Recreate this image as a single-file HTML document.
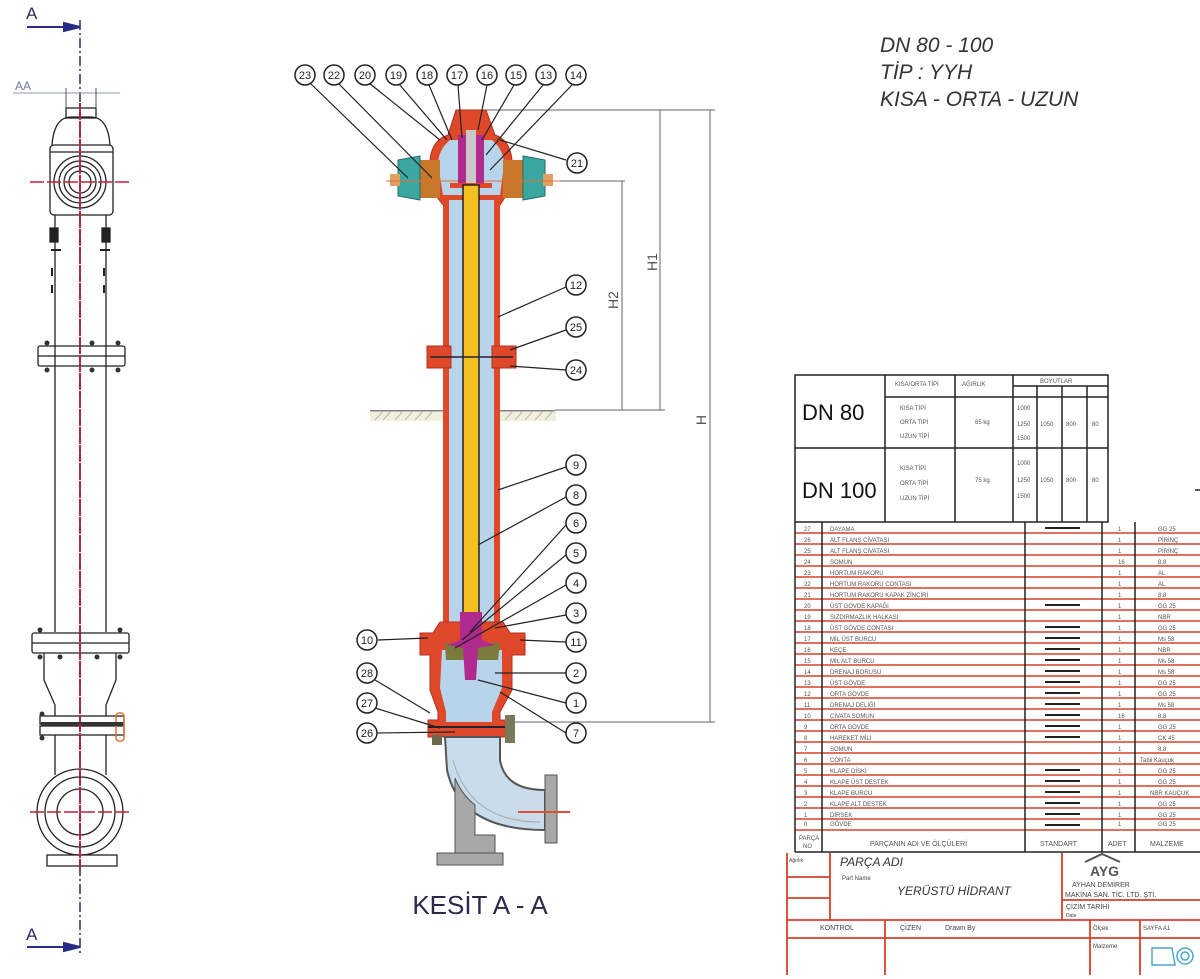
<!DOCTYPE html>
<html><head><meta charset="utf-8"><style>
html,body{margin:0;padding:0;background:#fff}
svg{display:block}
text{font-family:"Liberation Sans",sans-serif}
</style></head><body>
<svg width="1200" height="979" viewBox="0 0 1200 979" xmlns="http://www.w3.org/2000/svg">
<rect width="1200" height="979" fill="#fff"/>

<!-- ============ LEFT ELEVATION ============ -->
<g stroke="#222" stroke-width="1.3" fill="none">
  <rect x="66" y="108" width="30" height="10"/>
  <path d="M52 145 Q54 118 70 117 L92 117 Q108 118 110 145"/>
  <rect x="50" y="145" width="63" height="70" rx="4"/>
  <line x1="50" y1="152" x2="113" y2="152"/>
  <circle cx="80" cy="182" r="26"/><circle cx="80" cy="182" r="21"/><circle cx="80" cy="182" r="16"/><circle cx="80" cy="182" r="11"/>
  <line x1="55" y1="215" x2="55" y2="632"/><line x1="106" y1="215" x2="106" y2="632"/>
  <rect x="38" y="346" width="87" height="20" rx="2"/><line x1="38" y1="356" x2="125" y2="356"/>
  <rect x="32" y="633" width="97" height="20" rx="2"/><line x1="32" y1="643" x2="129" y2="643"/>
  <path d="M44 653 L44 680 L55 705 L55 716 M116 653 L116 680 L106 705 L106 716"/>
  <rect x="40" y="716" width="84" height="8"/><rect x="40" y="726" width="84" height="9"/>
  <line x1="55" y1="735" x2="55" y2="775"/><line x1="106" y1="735" x2="106" y2="775"/>
  <circle cx="80" cy="812" r="43"/><circle cx="80" cy="812" r="35"/><circle cx="80" cy="812" r="23"/>
  <rect x="47" y="855" width="70" height="11"/>
  <path d="M50 228 h8 v14 h-8z M102 228 h8 v14 h-8z" fill="#222"/>
  <path d="M51 250 h10 M100 250 h10 M52 268 v8 M104 268 v8 M52 285 v8 M104 285 v8" stroke-width="2"/>
</g>
<g fill="#333">
  <circle cx="47" cy="343" r="2.5"/><circle cx="92" cy="343" r="2.5"/><circle cx="118" cy="343" r="2.5"/>
  <circle cx="47" cy="370" r="2.5"/><circle cx="92" cy="370" r="2.5"/><circle cx="118" cy="370" r="2.5"/>
  <circle cx="40" cy="630" r="2.5"/><circle cx="60" cy="657" r="2.5"/><circle cx="97" cy="657" r="2.5"/><circle cx="120" cy="657" r="2.5"/><circle cx="40" cy="657" r="2.5"/><circle cx="120" cy="630" r="2.5"/>
  <circle cx="42" cy="714" r="2.5"/><circle cx="42" cy="738" r="2.5"/>
</g>
<rect x="116" y="713" width="8" height="28" rx="3" fill="none" stroke="#e07030" stroke-width="1.5"/>
<rect x="41" y="722" width="82" height="4" fill="#333"/>
<!-- centre lines -->
<line x1="80" y1="20" x2="80" y2="955" stroke="#2a2a6a" stroke-width="1.5" stroke-dasharray="10,3,2,3"/>
<line x1="80" y1="103" x2="80" y2="870" stroke="#c0203a" stroke-width="2" stroke-dasharray="7,2"/>
<line x1="30" y1="182" x2="132" y2="182" stroke="#c0203a" stroke-width="1.5" stroke-dasharray="14,3"/>
<line x1="30" y1="812" x2="130" y2="812" stroke="#c0203a" stroke-width="1.5" stroke-dasharray="14,3"/>
<!-- A arrows -->
<g stroke="#2a2a8a" stroke-width="2" fill="#2a2a8a">
  <line x1="27" y1="27" x2="70" y2="27"/><path d="M80 27 L64 23 L64 31Z"/>
  <line x1="27" y1="947" x2="70" y2="947"/><path d="M80 947 L64 943 L64 951Z"/>
</g>
<text x="26" y="19" font-size="17" fill="#2a2a6a">A</text>
<text x="26" y="940" font-size="17" fill="#2a2a6a">A</text>
<!-- AA -->
<text x="15" y="90" font-size="12" fill="#6a7a9a">AA</text>
<line x1="13" y1="93" x2="120" y2="93" stroke="#8a9ab0" stroke-width="1"/>
<line x1="66" y1="88" x2="66" y2="108" stroke="#555"/><line x1="96" y1="88" x2="96" y2="108" stroke="#555"/>

<!-- ============ SECTION A-A ============ -->
<!-- extension / dimension lines -->
<g stroke="#666" stroke-width="1">
  <line x1="486" y1="110" x2="715" y2="110"/>
  <line x1="545" y1="181" x2="625" y2="181"/>
  <line x1="555" y1="410" x2="665" y2="410"/>
  <line x1="510" y1="722" x2="715" y2="722"/>
  <line x1="710" y1="110" x2="710" y2="722"/>
  <line x1="660" y1="110" x2="660" y2="410"/>
  <line x1="622" y1="181" x2="622" y2="410"/>
</g>
<text transform="translate(706,420) rotate(-90)" font-size="14" fill="#555" text-anchor="middle">H</text>
<text transform="translate(657,262) rotate(-90)" font-size="14" fill="#555" text-anchor="middle">H1</text>
<text transform="translate(618,300) rotate(-90)" font-size="14" fill="#555" text-anchor="middle">H2</text>

<!-- ground -->
<line x1="370" y1="411" x2="555" y2="411" stroke="#556" stroke-width="1.5"/>
<path d="M375 420 l8 -9 M383 420 l8 -9 M395 420 l8 -9 M405 420 l8 -9 M415 420 l8 -9 M425 420 l8 -9 M505 420 l8 -9 M515 420 l8 -9 M525 420 l8 -9 M535 420 l8 -9 M545 420 l8 -9" stroke="#777" stroke-width="1"/>
<rect x="370" y="411" width="186" height="10" fill="#e7e6c8" opacity="0.6"/>

<!-- head -->
<path d="M456 110 L486 110 L495 135 Q510 140 512 160 L512 188 Q505 197 500 205 L443 205 Q437 197 430 188 L430 160 Q432 140 448 135 Z" fill="#e0482a" stroke="#b03020"/>
<path d="M450 140 L492 140 Q504 150 504 165 L500 195 L443 195 L438 165 Q438 150 450 140Z" fill="#b8d4ea"/>
<rect x="418" y="160" width="22" height="38" fill="#c8782a"/>
<rect x="503" y="160" width="22" height="38" fill="#c8782a"/>
<path d="M398 160 L420 156 L420 200 L398 196 Z" fill="#3aa8a0" stroke="#2a6a6a"/>
<path d="M523 156 L545 160 L545 196 L523 200 Z" fill="#3aa8a0" stroke="#2a6a6a"/>
<rect x="390" y="174" width="10" height="12" fill="#e0a060"/><rect x="543" y="174" width="10" height="12" fill="#e0a060"/>
<line x1="386" y1="181" x2="560" y2="181" stroke="#e07030"/>
<rect x="458" y="135" width="26" height="48" fill="#b02a90"/>
<rect x="466" y="128" width="10" height="58" fill="#c8c8c8"/>
<rect x="458" y="118" width="26" height="12" fill="#e0482a"/>
<rect x="450" y="183" width="42" height="5" fill="#e0482a"/>
<!-- pipe -->
<rect x="443" y="200" width="57" height="425" fill="#e0482a"/>
<rect x="449" y="200" width="45" height="425" fill="#b8d4ea"/>
<rect x="463" y="185" width="16" height="440" fill="#f4c020" stroke="#222" stroke-width="1.5"/>
<!-- mid flange -->
<rect x="427" y="346" width="24" height="22" fill="#e0482a" stroke="#b03020"/>
<rect x="492" y="346" width="24" height="22" fill="#e0482a" stroke="#b03020"/>
<line x1="430" y1="357" x2="513" y2="357" stroke="#223" stroke-width="1.5"/>
<!-- lower valve -->
<path d="M440 622 L503 622 L510 633 L525 633 L525 655 L512 655 L512 690 L500 712 L500 720 L510 720 L510 737 L428 737 L428 720 L438 720 L438 712 L430 690 L430 655 L420 655 L420 633 L433 633 Z" fill="#e0482a" stroke="#b03020"/>
<path d="M442 650 L502 650 L502 688 L492 712 L492 722 L446 722 L446 712 L440 688 Z" fill="#b8d4ea"/>
<path d="M445 643 L500 643 L498 660 L446 660 Z" fill="#7a7a3a"/>
<path d="M460 612 L482 612 L482 640 L495 645 L478 648 L476 680 L465 680 L463 648 L447 645 L460 640 Z" fill="#b02a90"/>
<line x1="428" y1="727" x2="512" y2="727" stroke="#223" stroke-width="2"/>
<rect x="505" y="715" width="10" height="28" fill="#7a7a5a"/>
<rect x="432" y="735" width="10" height="10" fill="#6a6a4a"/>
<!-- elbow -->
<path d="M445 737 L500 737 L500 760 Q505 790 545 790 L545 830 Q460 830 447 770 Z" fill="#c8dcec" stroke="#555" stroke-width="2"/>
<path d="M453 760 Q470 822 540 822" fill="none" stroke="#aaa" stroke-width="1"/>
<rect x="545" y="775" width="12" height="68" fill="#a8a8a8" stroke="#555"/>
<path d="M455 778 L455 855 L495 855 L495 835 L475 835 L475 805 Q462 795 455 778Z" fill="#a8a8a8" stroke="#555"/>
<rect x="437" y="853" width="66" height="12" fill="#a8a8a8" stroke="#555"/>
<line x1="518" y1="812" x2="570" y2="812" stroke="#e05030" stroke-width="2"/>

<!-- leader lines -->
<g stroke="#222" stroke-width="1.2" fill="none">
  <line x1="310" y1="83" x2="408" y2="178"/>
  <line x1="338" y1="83" x2="432" y2="178"/>
  <line x1="369" y1="83" x2="440" y2="140"/>
  <line x1="399" y1="84" x2="447" y2="140"/>
  <line x1="429" y1="85" x2="452" y2="140"/>
  <line x1="458" y1="85" x2="462" y2="138"/>
  <line x1="487" y1="85" x2="478" y2="130"/>
  <line x1="514" y1="85" x2="482" y2="140"/>
  <line x1="543" y1="85" x2="486" y2="155"/>
  <line x1="572" y1="85" x2="490" y2="170"/>
  <line x1="566" y1="160" x2="500" y2="140"/>
  <line x1="566" y1="287" x2="498" y2="317"/>
  <line x1="566" y1="330" x2="510" y2="350"/>
  <line x1="566" y1="370" x2="510" y2="366"/>
  <line x1="566" y1="467" x2="498" y2="490"/>
  <line x1="566" y1="497" x2="478" y2="545"/>
  <line x1="566" y1="525" x2="470" y2="632"/>
  <line x1="566" y1="555" x2="462" y2="640"/>
  <line x1="566" y1="585" x2="455" y2="648"/>
  <line x1="566" y1="615" x2="495" y2="628"/>
  <line x1="566" y1="642" x2="520" y2="640"/>
  <line x1="566" y1="673" x2="495" y2="673"/>
  <line x1="566" y1="703" x2="478" y2="680"/>
  <line x1="566" y1="733" x2="500" y2="692"/>
  <line x1="378" y1="640" x2="428" y2="638"/>
  <line x1="375" y1="680" x2="430" y2="713"/>
  <line x1="375" y1="708" x2="440" y2="728"/>
  <line x1="378" y1="733" x2="455" y2="732"/>
</g>
<!-- callout circles -->
<g stroke="#222" stroke-width="1.5" fill="#fff">
  <circle cx="305" cy="75" r="10"/><circle cx="334" cy="75" r="10"/><circle cx="365" cy="75" r="10"/><circle cx="396" cy="75" r="10"/><circle cx="427" cy="75" r="10"/><circle cx="457" cy="75" r="10"/><circle cx="487" cy="75" r="10"/><circle cx="516" cy="75" r="10"/><circle cx="546" cy="75" r="10"/><circle cx="576" cy="75" r="10"/>
  <circle cx="577" cy="163" r="10"/><circle cx="576" cy="285" r="10"/><circle cx="576" cy="327" r="10"/><circle cx="576" cy="370" r="10"/>
  <circle cx="576" cy="465" r="10"/><circle cx="576" cy="495" r="10"/><circle cx="576" cy="523" r="10"/><circle cx="576" cy="553" r="10"/><circle cx="576" cy="583" r="10"/><circle cx="576" cy="613" r="10"/><circle cx="576" cy="642" r="10"/><circle cx="576" cy="673" r="10"/><circle cx="576" cy="703" r="10"/><circle cx="576" cy="733" r="10"/>
  <circle cx="367" cy="640" r="10"/><circle cx="367" cy="673" r="10"/><circle cx="367" cy="703" r="10"/><circle cx="367" cy="733" r="10"/>
</g>
<g font-size="11" fill="#222" text-anchor="middle">
  <text x="305" y="79">23</text><text x="334" y="79">22</text><text x="365" y="79">20</text><text x="396" y="79">19</text><text x="427" y="79">18</text><text x="457" y="79">17</text><text x="487" y="79">16</text><text x="516" y="79">15</text><text x="546" y="79">13</text><text x="576" y="79">14</text>
  <text x="577" y="167">21</text><text x="576" y="289">12</text><text x="576" y="331">25</text><text x="576" y="374">24</text>
  <text x="576" y="469">9</text><text x="576" y="499">8</text><text x="576" y="527">6</text><text x="576" y="557">5</text><text x="576" y="587">4</text><text x="576" y="617">3</text><text x="576" y="646">11</text><text x="576" y="677">2</text><text x="576" y="707">1</text><text x="576" y="737">7</text>
  <text x="367" y="644">10</text><text x="367" y="677">28</text><text x="367" y="707">27</text><text x="367" y="737">26</text>
</g>
<text x="480" y="914" font-size="26" fill="#2a2a4a" text-anchor="middle">KESİT A - A</text>

<!-- ============ TOP RIGHT TEXT ============ -->
<g font-size="21" font-style="italic" fill="#333">
  <text x="880" y="52">DN  80 - 100</text>
  <text x="880" y="79">TİP : YYH</text>
  <text x="880" y="106">KISA - ORTA - UZUN</text>
</g>

<!-- ============ DN TABLE ============ -->
<g stroke="#222" stroke-width="1.5" fill="none">
  <rect x="795" y="375" width="313" height="147"/>
  <line x1="795" y1="448" x2="1108" y2="448"/>
  <line x1="885" y1="375" x2="885" y2="522"/>
  <line x1="955" y1="375" x2="955" y2="522"/>
  <line x1="1013" y1="375" x2="1013" y2="522"/>
  <line x1="885" y1="397" x2="1013" y2="397"/>
  <line x1="1013" y1="386" x2="1108" y2="386"/>
  <line x1="1013" y1="397" x2="1108" y2="397"/>
  <line x1="1037" y1="386" x2="1037" y2="522"/>
  <line x1="1062" y1="386" x2="1062" y2="522"/>
  <line x1="1087" y1="386" x2="1087" y2="522"/>
</g>
<text x="802" y="420" font-size="22" fill="#111">DN 80</text>
<text x="802" y="498" font-size="22" fill="#111">DN 100</text>
<g font-size="6" fill="#555">
  <text x="895" y="386">KISA/ORTA TİPİ</text><text x="962" y="386">AĞIRLIK</text><text x="1040" y="383">BOYUTLAR</text>
  <text x="900" y="410">KISA TİPİ</text><text x="900" y="424">ORTA TİPİ</text><text x="900" y="438">UZUN TİPİ</text>
  <text x="975" y="424">65 kg</text>
  <text x="1017" y="410">1000</text><text x="1017" y="426">1250</text><text x="1017" y="440">1500</text>
  <text x="1040" y="426">1050</text><text x="1066" y="426">800</text><text x="1092" y="426">80</text>
  <text x="900" y="470">KISA TİPİ</text><text x="900" y="485">ORTA TİPİ</text><text x="900" y="500">UZUN TİPİ</text>
  <text x="975" y="482">75 kg</text>
  <text x="1017" y="465">1000</text><text x="1017" y="482">1250</text><text x="1017" y="498">1500</text>
  <text x="1040" y="482">1050</text><text x="1066" y="482">800</text><text x="1092" y="482">80</text>
</g>

<!-- ============ PARTS LIST ============ -->
<g stroke="#d8402a" stroke-width="1.6">
  <line x1="795" y1="533" x2="1200" y2="533"/><line x1="795" y1="544" x2="1200" y2="544"/><line x1="795" y1="555" x2="1200" y2="555"/><line x1="795" y1="566" x2="1200" y2="566"/><line x1="795" y1="577" x2="1200" y2="577"/><line x1="795" y1="588" x2="1200" y2="588"/><line x1="795" y1="599" x2="1200" y2="599"/><line x1="795" y1="610" x2="1200" y2="610"/><line x1="795" y1="621" x2="1200" y2="621"/><line x1="795" y1="632" x2="1200" y2="632"/><line x1="795" y1="643" x2="1200" y2="643"/><line x1="795" y1="654" x2="1200" y2="654"/><line x1="795" y1="665" x2="1200" y2="665"/><line x1="795" y1="676" x2="1200" y2="676"/><line x1="795" y1="687" x2="1200" y2="687"/><line x1="795" y1="698" x2="1200" y2="698"/><line x1="795" y1="709" x2="1200" y2="709"/><line x1="795" y1="720" x2="1200" y2="720"/><line x1="795" y1="731" x2="1200" y2="731"/><line x1="795" y1="742" x2="1200" y2="742"/><line x1="795" y1="753" x2="1200" y2="753"/><line x1="795" y1="764" x2="1200" y2="764"/><line x1="795" y1="775" x2="1200" y2="775"/><line x1="795" y1="786" x2="1200" y2="786"/><line x1="795" y1="797" x2="1200" y2="797"/><line x1="795" y1="808" x2="1200" y2="808"/><line x1="795" y1="819" x2="1200" y2="819"/><line x1="795" y1="830" x2="1200" y2="830"/>
</g>
<g stroke="#222" stroke-width="1.5" fill="none">
  <line x1="795" y1="522" x2="795" y2="852"/>
  <line x1="822" y1="522" x2="822" y2="852"/>
  <line x1="1025" y1="522" x2="1025" y2="852"/>
  <line x1="1102" y1="522" x2="1102" y2="852"/>
  <line x1="1135" y1="522" x2="1135" y2="852"/>
  <line x1="795" y1="852" x2="1200" y2="852"/>
</g>
<g stroke="#222" stroke-width="2">
  <line x1="1045" y1="528" x2="1080" y2="528"/><line x1="1045" y1="605" x2="1080" y2="605"/><line x1="1045" y1="627" x2="1080" y2="627"/><line x1="1045" y1="638" x2="1080" y2="638"/><line x1="1045" y1="649" x2="1080" y2="649"/><line x1="1045" y1="660" x2="1080" y2="660"/><line x1="1045" y1="671" x2="1080" y2="671"/><line x1="1045" y1="682" x2="1080" y2="682"/><line x1="1045" y1="693" x2="1080" y2="693"/><line x1="1045" y1="704" x2="1080" y2="704"/><line x1="1045" y1="715" x2="1080" y2="715"/><line x1="1045" y1="726" x2="1080" y2="726"/><line x1="1045" y1="737" x2="1080" y2="737"/><line x1="1045" y1="770" x2="1080" y2="770"/><line x1="1045" y1="781" x2="1080" y2="781"/><line x1="1045" y1="792" x2="1080" y2="792"/><line x1="1045" y1="803" x2="1080" y2="803"/><line x1="1045" y1="814" x2="1080" y2="814"/><line x1="1045" y1="825" x2="1080" y2="825"/>
</g>
<g font-size="6" fill="#555">
  <text x="804" y="531">27</text><text x="830" y="531">DAYAMA</text><text x="1118" y="531">1</text><text x="1158" y="531">GG 25</text>
  <text x="804" y="542">26</text><text x="830" y="542">ALT FLANŞ CİVATASI</text><text x="1118" y="542">1</text><text x="1158" y="542">PİRİNÇ</text>
  <text x="804" y="553">25</text><text x="830" y="553">ALT FLANŞ CİVATASI</text><text x="1118" y="553">1</text><text x="1158" y="553">PİRİNÇ</text>
  <text x="804" y="564">24</text><text x="830" y="564">SOMUN</text><text x="1118" y="564">16</text><text x="1158" y="564">8.8</text>
  <text x="804" y="575">23</text><text x="830" y="575">HORTUM RAKORU</text><text x="1118" y="575">1</text><text x="1158" y="575">AL</text>
  <text x="804" y="586">22</text><text x="830" y="586">HORTUM RAKORU CONTASI</text><text x="1118" y="586">1</text><text x="1158" y="586">AL</text>
  <text x="804" y="597">21</text><text x="830" y="597">HORTUM RAKORU KAPAK ZİNCİRİ</text><text x="1118" y="597">1</text><text x="1158" y="597">8.8</text>
  <text x="804" y="608">20</text><text x="830" y="608">ÜST GÖVDE KAPAĞI</text><text x="1118" y="608">1</text><text x="1158" y="608">GG 25</text>
  <text x="804" y="619">19</text><text x="830" y="619">SIZDIRMAZLIK HALKASI</text><text x="1118" y="619">1</text><text x="1158" y="619">NBR</text>
  <text x="804" y="630">18</text><text x="830" y="630">ÜST GÖVDE CONTASI</text><text x="1118" y="630">1</text><text x="1158" y="630">GG 25</text>
  <text x="804" y="641">17</text><text x="830" y="641">MİL ÜST BURCU</text><text x="1118" y="641">1</text><text x="1158" y="641">Ms 58</text>
  <text x="804" y="652">16</text><text x="830" y="652">KEÇE</text><text x="1118" y="652">1</text><text x="1158" y="652">NBR</text>
  <text x="804" y="663">15</text><text x="830" y="663">MİL ALT BURCU</text><text x="1118" y="663">1</text><text x="1158" y="663">Ms 58</text>
  <text x="804" y="674">14</text><text x="830" y="674">DRENAJ BORUSU</text><text x="1118" y="674">1</text><text x="1158" y="674">Ms 58</text>
  <text x="804" y="685">13</text><text x="830" y="685">ÜST GÖVDE</text><text x="1118" y="685">1</text><text x="1158" y="685">GG 25</text>
  <text x="804" y="696">12</text><text x="830" y="696">ORTA GÖVDE</text><text x="1118" y="696">1</text><text x="1158" y="696">GG 25</text>
  <text x="804" y="707">11</text><text x="830" y="707">DRENAJ DELİĞİ</text><text x="1118" y="707">1</text><text x="1158" y="707">Ms 58</text>
  <text x="804" y="718">10</text><text x="830" y="718">CİVATA SOMUN</text><text x="1118" y="718">16</text><text x="1158" y="718">8.8</text>
  <text x="804" y="729">9</text><text x="830" y="729">ORTA GÖVDE</text><text x="1118" y="729">1</text><text x="1158" y="729">GG 25</text>
  <text x="804" y="740">8</text><text x="830" y="740">HAREKET MİLİ</text><text x="1118" y="740">1</text><text x="1158" y="740">CK 45</text>
  <text x="804" y="751">7</text><text x="830" y="751">SOMUN</text><text x="1118" y="751">1</text><text x="1158" y="751">8.8</text>
  <text x="804" y="762">6</text><text x="830" y="762">CONTA</text><text x="1118" y="762">1</text><text x="1140" y="762">Tabii Kauçuk</text>
  <text x="804" y="773">5</text><text x="830" y="773">KLAPE DİSKİ</text><text x="1118" y="773">1</text><text x="1158" y="773">GG 25</text>
  <text x="804" y="784">4</text><text x="830" y="784">KLAPE ÜST DESTEK</text><text x="1118" y="784">1</text><text x="1158" y="784">GG 25</text>
  <text x="804" y="795">3</text><text x="830" y="795">KLAPE BURCU</text><text x="1118" y="795">1</text><text x="1150" y="795">NBR KAUÇUK</text>
  <text x="804" y="806">2</text><text x="830" y="806">KLAPE ALT DESTEK</text><text x="1118" y="806">1</text><text x="1158" y="806">GG 25</text>
  <text x="804" y="817">1</text><text x="830" y="817">DİRSEK</text><text x="1118" y="817">1</text><text x="1158" y="817">GG 25</text>
  <text x="804" y="826">0</text><text x="830" y="826">GÖVDE</text><text x="1118" y="826">1</text><text x="1158" y="826">GG 25</text>
  <text x="799" y="840">PARÇA</text><text x="803" y="848">NO</text>
  <text x="870" y="846" font-size="7">PARÇANIN ADI VE ÖLÇÜLERİ</text>
  <text x="1040" y="846" font-size="7">STANDART</text><text x="1108" y="846" font-size="7">ADET</text><text x="1150" y="846" font-size="7">MALZEME</text>
</g>

<!-- ============ TITLE BLOCK ============ -->
<g stroke="#d8402a" stroke-width="1.8" fill="none">
  <line x1="787" y1="853" x2="787" y2="975"/>
  <line x1="830" y1="853" x2="830" y2="920"/>
  <line x1="787" y1="877" x2="830" y2="877"/>
  <line x1="787" y1="898" x2="830" y2="898"/>
  <line x1="1062" y1="853" x2="1062" y2="920"/>
  <line x1="1062" y1="900" x2="1200" y2="900"/>
  <line x1="787" y1="920" x2="1200" y2="920"/>
  <line x1="787" y1="938" x2="1200" y2="938"/>
  <line x1="885" y1="920" x2="885" y2="975"/>
  <line x1="1090" y1="920" x2="1090" y2="975"/>
  <line x1="1140" y1="920" x2="1140" y2="975"/>
</g>
<g fill="#444">
  <text x="789" y="862" font-size="5">Ağırlık</text>
  <text x="840" y="866" font-size="12" font-style="italic" fill="#333">PARÇA ADI</text>
  <text x="842" y="880" font-size="6">Part Name</text>
  <text x="897" y="895" font-size="12" font-style="italic" fill="#333">YERÜSTÜ HİDRANT</text>
  <text x="1090" y="876" font-size="14" font-weight="bold" fill="#555">AYG</text>
  <path d="M1085 862 L1102 854 L1120 862" fill="none" stroke="#555" stroke-width="2"/>
  <text x="1072" y="887" font-size="7">AYHAN DEMİRER</text>
  <text x="1065" y="897" font-size="7">MAKİNA SAN. TİC. LTD. ŞTİ.</text>
  <text x="1066" y="909" font-size="7">ÇİZİM TARİHİ</text>
  <text x="1066" y="917" font-size="5">Date</text>
  <text x="820" y="930" font-size="7">KONTROL</text>
  <text x="900" y="930" font-size="7">ÇİZEN</text><text x="945" y="930" font-size="7">Drawn By</text>
  <text x="1093" y="930" font-size="6">Ölçek</text><text x="1143" y="930" font-size="6">SAYFA A1</text>
  <text x="1093" y="948" font-size="6">Malzeme</text>
</g>
<g stroke="#4aa8c8" stroke-width="1.5" fill="none">
  <path d="M1152 948 L1172 948 L1175 965 L1152 965 Z"/>
  <circle cx="1185" cy="956" r="8"/><circle cx="1185" cy="956" r="4"/>
</g>
<line x1="1195" y1="490" x2="1200" y2="490" stroke="#222" stroke-width="1.5"/>
</svg>
</body></html>
